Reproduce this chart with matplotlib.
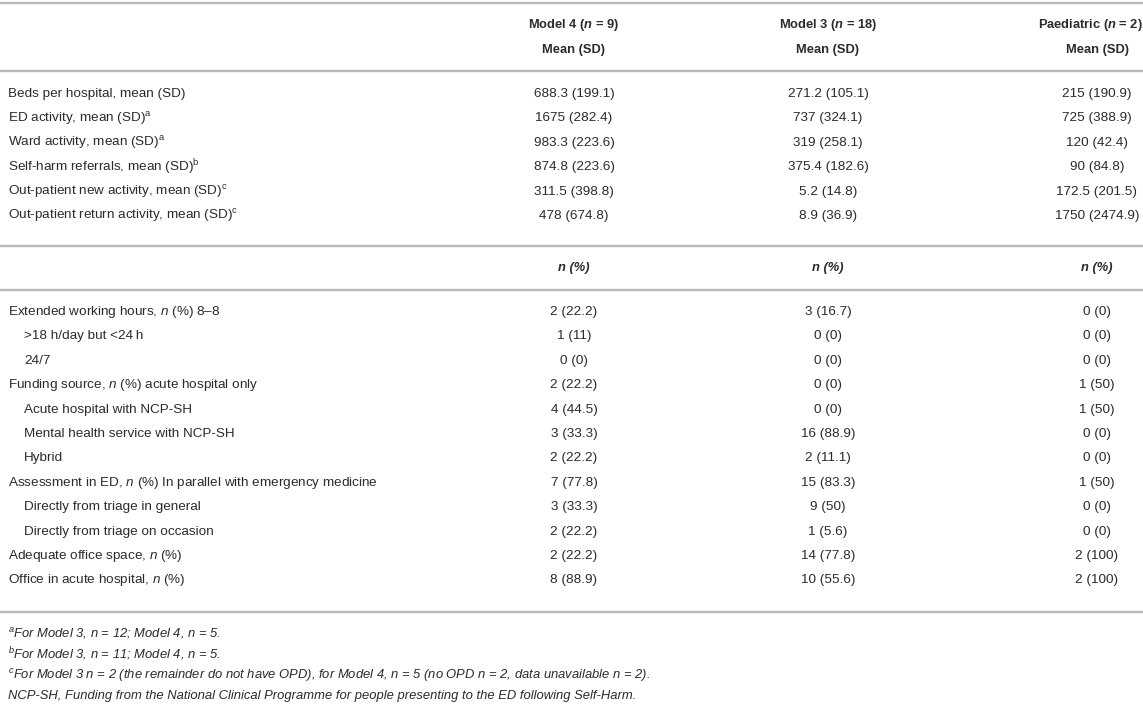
import matplotlib
matplotlib.use("Agg")
import matplotlib.pyplot as plt

plt.rcParams['font.family'] = ['Liberation Sans', 'DejaVu Sans']
plt.rcParams['mathtext.fontset'] = 'custom'
plt.rcParams['mathtext.rm'] = 'Liberation Sans'
plt.rcParams['mathtext.it'] = 'Liberation Sans:italic'
plt.rcParams['mathtext.bf'] = 'Liberation Sans:bold'
try:
    plt.rcParams['mathtext.bfit'] = 'Liberation Sans:italic:bold'
except Exception:
    pass

# ---------------- data ----------------
col_headers = [r"Model 4 ($\mathbfit{n}$ = 9)", r"Model 3 ($\mathbfit{n}$ = 18)", r"Paediatric ($\mathbfit{n}$ = 2)"]
sub_header_1 = ["Mean (SD)", "Mean (SD)", "Mean (SD)"]
sub_header_2 = ["n (%)", "n (%)", "n (%)"]

labels_1 = [
    "Beds per hospital, mean (SD)",
    "ED activity, mean (SD)$^{\\mathrm{a}}$",
    "Ward activity, mean (SD)$^{\\mathrm{a}}$",
    "Self-harm referrals, mean (SD)$^{\\mathrm{b}}$",
    "Out-patient new activity, mean (SD)$^{\\mathrm{c}}$",
    "Out-patient return activity, mean (SD)$^{\\mathrm{c}}$",
]
model4_1 = ["688.3 (199.1)", "1675 (282.4)", "983.3 (223.6)", "874.8 (223.6)", "311.5 (398.8)", "478 (674.8)"]
model3_1 = ["271.2 (105.1)", "737 (324.1)", "319 (258.1)", "375.4 (182.6)", "5.2 (14.8)", "8.9 (36.9)"]
paed_1 = ["215 (190.9)", "725 (388.9)", "120 (42.4)", "90 (84.8)", "172.5 (201.5)", "1750 (2474.9)"]

labels_2 = [
    "Extended working hours, $n$ (%) 8\u20138",
    ">18 h/day but <24\u2009h",
    "24/7",
    "Funding source, $n$ (%) acute hospital only",
    "Acute hospital with NCP-SH",
    "Mental health service with NCP-SH",
    "Hybrid",
    "Assessment in ED, $n$ (%) In parallel with emergency medicine",
    "Directly from triage in general",
    "Directly from triage on occasion",
    "Adequate office space, $n$ (%)",
    "Office in acute hospital, $n$ (%)",
]
indent_2 = [0, 1, 1, 0, 1, 1, 1, 0, 1, 1, 0, 0]
model4_2 = ["2 (22.2)", "1 (11)", "0 (0)", "2 (22.2)", "4 (44.5)", "3 (33.3)", "2 (22.2)", "7 (77.8)", "3 (33.3)", "2 (22.2)", "2 (22.2)", "8 (88.9)"]
model3_2 = ["3 (16.7)", "0 (0)", "0 (0)", "0 (0)", "0 (0)", "16 (88.9)", "2 (11.1)", "15 (83.3)", "9 (50)", "1 (5.6)", "14 (77.8)", "10 (55.6)"]
paed_2 = ["0 (0)", "0 (0)", "0 (0)", "1 (50)", "1 (50)", "0 (0)", "0 (0)", "1 (50)", "0 (0)", "0 (0)", "2 (100)", "2 (100)"]

footnotes = [
    "$^{a}$For Model 3, $n$ = 12; Model 4, $n$ = 5.",
    "$^{b}$For Model 3, $n$ = 11; Model 4, $n$ = 5.",
    "$^{c}$For Model 3 $n$ = 2 (the remainder do not have OPD), for Model 4, $n$ = 5 (no OPD $n$ = 2, data unavailable $n$ = 2).",
    "NCP-SH, Funding from the National Clinical Programme for people presenting to the ED following Self-Harm.",
]

# ---------------- layout ----------------
W, H = 1143, 713
fig = plt.figure(figsize=(W / 100, H / 100), dpi=100)
ax = fig.add_axes([0, 0, 1, 1])
ax.set_xlim(0, W)
ax.set_ylim(H, 0)
ax.axis('off')

TXT = '#2b2b2b'
LINE = '#b8b8b8'
FS = 9.7
FSH = 9.3
col_x = [574, 828, 1097]
head_x = [574, 828, 1090]
x_label = 8
x_indent = 24
step = 24.4

def hline(y):
    ax.plot([0, W], [y, y], color=LINE, lw=1.7, solid_capstyle='butt')

hline(3)
for i, h in enumerate(col_headers):
    ax.text(head_x[i], 25, h, ha='center', va='center', fontsize=FSH, fontweight='bold', color=TXT)
    ax.text(head_x[i] if i < 2 else col_x[i], 50, sub_header_1[i], ha='center', va='center',
            fontsize=FSH, fontweight='bold', color=TXT)
hline(71)

y0 = 94
for r, lab in enumerate(labels_1):
    y = y0 + r * step
    ax.text(x_label, y, lab, ha='left', va='center', fontsize=FS, color=TXT)
    for i, vals in enumerate([model4_1, model3_1, paed_1]):
        ax.text(col_x[i], y, vals[r], ha='center', va='center', fontsize=FS, color=TXT)

yl = y0 + 5 * step + 30
hline(yl)
for i in range(3):
    ax.text(col_x[i], yl + 22, sub_header_2[i], ha='center', va='center', fontsize=FSH,
            fontweight='bold', fontstyle='italic', color=TXT)
hline(yl + 44)

y1 = yl + 66
for r, lab in enumerate(labels_2):
    y = y1 + r * step
    ax.text(x_indent if indent_2[r] else x_label, y, lab, ha='left', va='center', fontsize=FS, color=TXT)
    for i, vals in enumerate([model4_2, model3_2, paed_2]):
        ax.text(col_x[i], y, vals[r], ha='center', va='center', fontsize=FS, color=TXT)

yl2 = y1 + 11 * step + 32
hline(yl2)
for k, t in enumerate(footnotes):
    ax.text(x_label, yl2 + 21 + k * 21, t, ha='left', va='center', fontsize=FS - 0.3,
            fontstyle='italic', color=TXT)

fig.savefig('out.png', dpi=100)
